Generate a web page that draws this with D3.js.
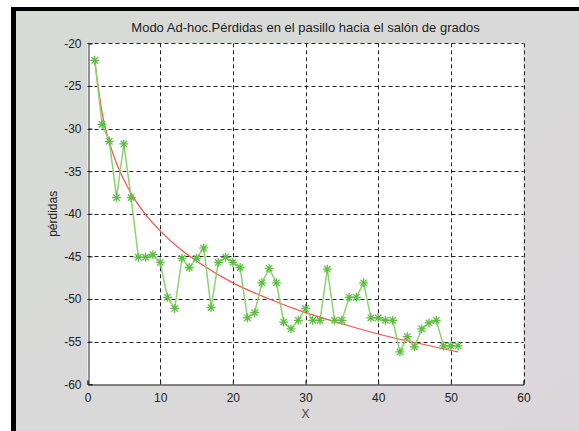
<!DOCTYPE html>
<html>
<head>
<meta charset="utf-8">
<script src="https://cdn.jsdelivr.net/npm/d3@7"></script>
<style>
  html, body { margin: 0; padding: 0; background: #fff; }
  svg { display: block; }
  text { font-family: "Liberation Sans", Arial, sans-serif; }
</style>
</head>
<body>
<script>
// ---- data ----
const xValues = [1,2,3,4,5,6,7,8,9,10,11,12,13,14,15,16,17,18,19,20,21,22,23,24,25,26,27,28,29,30,31,32,33,34,35,36,37,38,39,40,41,42,43,44,45,46,47,48,49,50,51];
const perdidas = [-22.0,-29.5,-31.5,-38.1,-31.8,-38.1,-45.1,-45.1,-44.8,-45.7,-49.8,-51.1,-45.2,-46.3,-45.2,-44.0,-51.0,-45.7,-45.1,-45.7,-46.3,-52.2,-51.6,-48.1,-46.4,-48.1,-52.7,-53.5,-52.5,-51.1,-52.5,-52.5,-46.5,-52.5,-52.5,-49.8,-49.8,-48.1,-52.2,-52.2,-52.5,-52.5,-56.2,-54.4,-55.6,-53.5,-52.8,-52.5,-55.5,-55.5,-55.5];
// fitted curve
const fitX = [1,2,3,4,5,6,8,10,13,16,20,25,30,35,40,45,51];
const fitY = [-22.0,-28.1,-31.6,-34.1,-36.0,-37.6,-40.1,-42.0,-44.3,-46.1,-48.1,-50.0,-51.6,-52.9,-54.1,-55.1,-56.2];
const xTicks = [0,10,20,30,40,50,60];
const yTicks = [-60,-55,-50,-45,-40,-35,-30,-25,-20];
const titleText = "Modo Ad-hoc.Pérdidas en el pasillo hacia el salón de grados";
const xLabel = "X";
const yLabel = "pérdidas";

// ---- layout ----
const W = 579, H = 431;
const plot = { left: 87.5, top: 43.3, right: 523.5, bottom: 384.3 };

const svg = d3.select("body").append("svg").attr("width", W).attr("height", H);

const defs = svg.append("defs");
const grad = defs.append("linearGradient").attr("id", "bg")
  .attr("x1", "0").attr("y1", "0").attr("x2", "1").attr("y2", "1");
grad.append("stop").attr("offset", "0").attr("stop-color", "#d6dbd4");
grad.append("stop").attr("offset", "0.5").attr("stop-color", "#d9d9d9");
grad.append("stop").attr("offset", "1").attr("stop-color", "#dcd6da");

// window frame
svg.append("rect").attr("x", 0).attr("y", 0).attr("width", W).attr("height", H).attr("fill", "#fff");
svg.append("rect").attr("x", 11).attr("y", 7).attr("width", W - 11).attr("height", H - 7).attr("fill", "url(#bg)");
svg.append("rect").attr("x", 11).attr("y", 7).attr("width", W - 11).attr("height", 4).attr("fill", "#000");
svg.append("rect").attr("x", 11).attr("y", 7).attr("width", 5).attr("height", H - 7).attr("fill", "#000");

const x = d3.scaleLinear().domain([0, 60]).range([plot.left, plot.right]);
const y = d3.scaleLinear().domain([-60, -20]).range([plot.bottom, plot.top]);

// plot area
svg.append("rect")
  .attr("x", plot.left).attr("y", plot.top)
  .attr("width", plot.right - plot.left).attr("height", plot.bottom - plot.top)
  .attr("fill", "#fff");

// grid
const grid = svg.append("g").attr("stroke", "#222").attr("stroke-width", 1).attr("stroke-dasharray", "4,3").attr("fill", "none");
grid.selectAll("line.gx").data(xTicks.filter(d => d > 0)).join("line")
  .attr("class", "gx")
  .attr("x1", d => Math.round(x(d)) + 0.5).attr("x2", d => Math.round(x(d)) + 0.5)
  .attr("y1", plot.top).attr("y2", plot.bottom);
grid.selectAll("line.gy").data(yTicks.filter(d => d > -60)).join("line")
  .attr("class", "gy")
  .attr("y1", d => Math.round(y(d)) + 0.5).attr("y2", d => Math.round(y(d)) + 0.5)
  .attr("x1", plot.left).attr("x2", plot.right);

// axes (solid left and bottom)
const xAxis = d3.axisBottom(x).tickValues(xTicks).tickSize(-4).tickPadding(9).tickFormat(d3.format("d"));
const yAxis = d3.axisLeft(y).tickValues(yTicks).tickSize(-4).tickPadding(7).tickFormat(d => d);

const gx = svg.append("g").attr("transform", `translate(0,${Math.round(plot.bottom) + 0.5})`).call(xAxis);
const gy = svg.append("g").attr("transform", `translate(${Math.round(plot.left) + 0.5},0)`).call(yAxis);
[gx, gy].forEach(g => {
  g.select(".domain").attr("stroke", "#222").attr("stroke-width", 1);
  g.selectAll(".tick line").attr("stroke", "#222");
  g.selectAll(".tick text").attr("fill", "#222").style("font-size", "12px")
    .style("font-family", '"Liberation Sans", Arial, sans-serif');
});
gx.selectAll(".tick text").attr("dy", "0.71em");

// fitted curve (red)
const fitLine = d3.line().x((d, i) => x(fitX[i])).y(d => y(d)).curve(d3.curveMonotoneX);
svg.append("path").datum(fitY)
  .attr("d", fitLine).attr("fill", "none").attr("stroke", "#ff4d4d").attr("stroke-width", 1.2);

// data (green with star markers)
const dataLine = d3.line().x((d, i) => x(xValues[i])).y(d => y(d));
svg.append("path").datum(perdidas)
  .attr("d", dataLine).attr("fill", "none").attr("stroke", "#8ad46e").attr("stroke-width", 1.5);

// 8-armed asterisk marker
const r = 4.5, rd = 3.2;
const starPath = `M${-r},0L${r},0M0,${-r}L0,${r}M${-rd},${-rd}L${rd},${rd}M${-rd},${rd}L${rd},${-rd}`;
svg.append("g").selectAll("path").data(perdidas).join("path")
  .attr("transform", (d, i) => `translate(${x(xValues[i])},${y(d)})`)
  .attr("d", starPath)
  .attr("fill", "none").attr("stroke", "#5cbf40").attr("stroke-width", 1.3);

// title & labels
svg.append("text").attr("x", (plot.left + plot.right) / 2).attr("y", 32)
  .attr("text-anchor", "middle").attr("fill", "#222").style("font-size", "13px").text(titleText);
svg.append("text").attr("x", (plot.left + plot.right) / 2).attr("y", 418)
  .attr("text-anchor", "middle").attr("fill", "#444").style("font-size", "12px").text(xLabel);
svg.append("text").attr("transform", `translate(57,${(plot.top + plot.bottom) / 2}) rotate(-90)`)
  .attr("text-anchor", "middle").attr("fill", "#222").style("font-size", "12px").text(yLabel);
</script>
</body>
</html>
